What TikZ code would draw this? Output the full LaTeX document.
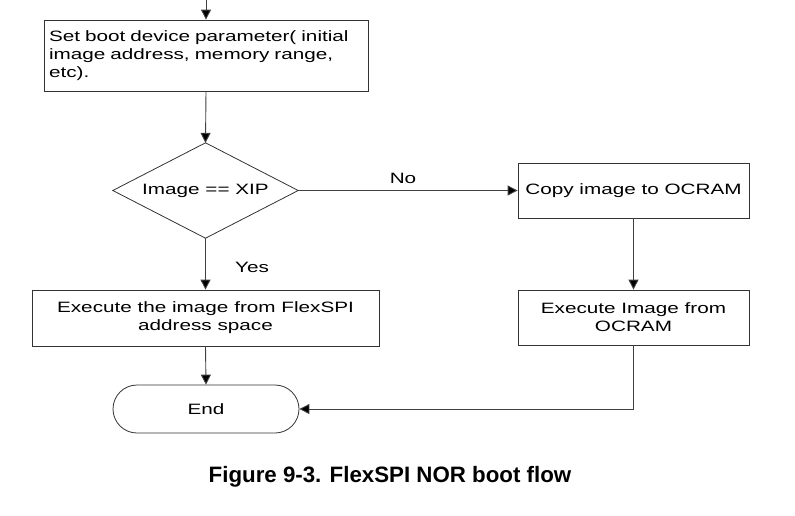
\documentclass[tikz,border=0pt]{standalone}
\usepackage{fontspec}
\setmainfont{Liberation Sans}
\newfontfamily\boxfont[FakeStretch=1.38]{Liberation Sans}
\usetikzlibrary{arrows.meta}
\begin{document}
\begin{tikzpicture}[x=1pt,y=-1pt,
  font=\boxfont\fontsize{15pt}{18pt}\selectfont,
  box/.style={draw=black!80,line width=0.8pt,rectangle,inner sep=4pt},
  conn/.style={draw=black!75,line width=0.9pt,-{Triangle[length=10pt,width=10pt,fill=black]}},
  lbl/.style={inner sep=0pt}]
\useasboundingbox (0,0) rectangle (795,515);
\coordinate (top) at (206,0);
\node[box,minimum width=324pt,minimum height=71pt,text width=314pt,align=left] (set) at (206,55.5)
  {Set boot device parameter( initial\\image address, memory range,\\etc).};
\node[minimum width=185pt,minimum height=95pt,inner sep=0pt] (dec) at (205.5,190.5) {Image == XIP};
\draw[black!80,line width=0.8pt] (dec.north) -- (dec.east) -- (dec.south) -- (dec.west) -- cycle;
\node[box,minimum width=231pt,minimum height=55pt] (copy) at (633.5,190.5) {Copy image to OCRAM};
\node[box,minimum width=231pt,minimum height=55pt,align=center] (exo) at (633.5,317.5) {Execute Image from\\OCRAM};
\node[box,minimum width=347pt,minimum height=56pt,align=center] (exf) at (205.5,318) {Execute the image from FlexSPI\\address space};
\node[draw=black!80,line width=0.8pt,rounded corners=24pt,minimum width=186pt,minimum height=48pt] (end) at (206,409) {End};
\node[lbl] (no) at (403,178) {No};
\node[lbl] (yes) at (252,267) {Yes};
\draw[conn] (top) -- (set.north);
\draw[conn] (set.south) -- (dec.north);
\draw[conn] (dec.east) -- (copy.west);
\draw[conn] (copy.south) -- (exo.north);
\draw[conn] (dec.south) -- (exf.north);
\draw[conn] (exf.south) -- (end.north);
\draw[conn] (exo.south) |- (end.east);
\node[font=\bfseries\fontsize{22.3pt}{26pt}\selectfont] (cap) at (390,477) {Figure 9-3. FlexSPI NOR boot flow};
\end{tikzpicture}
\end{document}
